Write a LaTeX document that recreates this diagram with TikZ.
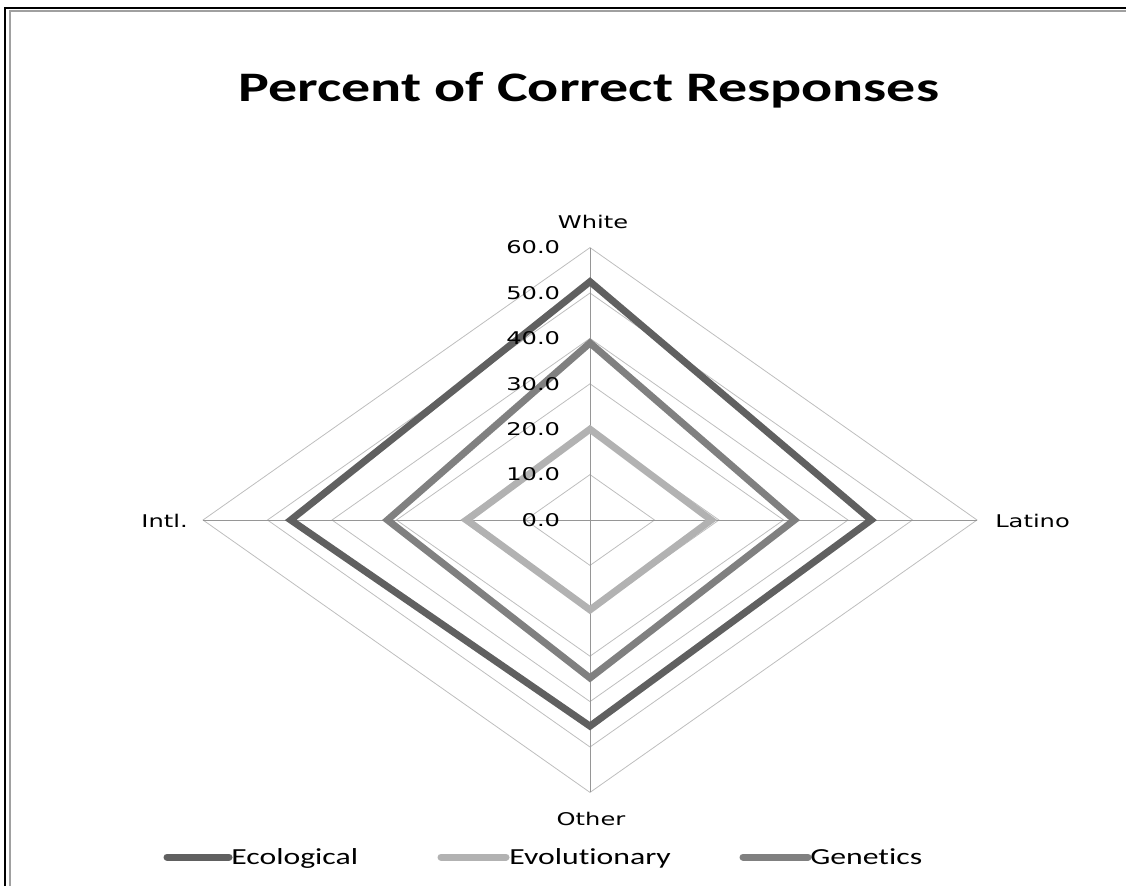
\documentclass[tikz,border=0pt]{standalone}
\usepackage{fontspec}
\setmainfont{DejaVu Sans}
\newfontfamily\calibrifont[Ligatures=NoCommon]{Carlito}
\usepackage{tikz}

\definecolor{ecogray}{RGB}{96,96,96}
\definecolor{evogray}{RGB}{178,178,178}
\definecolor{gengray}{RGB}{128,128,128}
\definecolor{gridgray}{RGB}{190,190,190}
\definecolor{axisgray}{RGB}{150,150,150}
\definecolor{framegray}{RGB}{160,160,160}

\begin{document}
\begin{tikzpicture}[x=1pt,y=-1pt]
\tikzstyle{every node}+=[inner sep=0pt]
\tikzstyle{wide}=[xscale=1.38,transform shape]
\tikzstyle{ring}=[draw=gridgray,line width=0.8pt]
\tikzstyle{axis}=[draw=axisgray,line width=1pt]
\tikzstyle{series}=[line width=7pt]
\tikzstyle{catlabel}=[wide,font=\fontsize{17.5}{20}\selectfont]
\tikzstyle{legendlabel}=[wide,font=\calibrifont\fontsize{23}{27}\selectfont]
\useasboundingbox (0,0) rectangle (1126,886);
% frame
\draw [black,line width=2.2pt] (4.6,886) -- (4.6,7.8) -- (1126,7.8);
\draw [framegray,line width=2pt] (9.8,886) -- (9.8,10.9) -- (1126,10.9);
% title
\node [wide,font=\calibrifont\bfseries\fontsize{42}{48}\selectfont] (title) at (589,90) {Percent of Correct Responses};
% radar
\begin{scope}[shift={(590,520)},x=6.45pt,y=4.54pt]
\foreach \r in {10,20,...,60}
  \draw [ring] (0,\r) -- (\r,0) -- (0,-\r) -- (-\r,0) -- cycle;
\draw [axis] (0,60) -- (0,-60);
\draw [axis] (-60,0) -- (60,0);
\draw [series,ecogray] (0,52.5) -- (43.6,0) -- (0,-45.4) -- (-46.4,0) -- cycle;
\draw [series,gengray] (0,39) -- (31.7,0) -- (0,-34.8) -- (-31.4,0) -- cycle;
\draw [series,evogray] (0,20) -- (18.8,0) -- (0,-19.8) -- (-19.1,0) -- cycle;
\foreach \r in {0,10,...,60}
  \node [catlabel,anchor=east] (tick\r) at (-4.6,\r) {\r.0};
\end{scope}
% category labels
\node [catlabel] (white) at (593,222) {White};
\node [catlabel,anchor=west] (latino) at (995,521) {Latino};
\node [catlabel,anchor=east] (intl) at (188,521) {Intl.};
\node [catlabel] (other) at (591,819) {Other};
% legend
\coordinate (ecoa) at (167,857);
\coordinate (ecob) at (229,857);
\draw [series,ecogray,line cap=round] (ecoa) -- (ecob);
\node [legendlabel,anchor=base west] (ecolabel) at (231,864) {Ecological};
\coordinate (evoa) at (441,857);
\coordinate (evob) at (506,857);
\draw [series,evogray,line cap=round] (evoa) -- (evob);
\node [legendlabel,anchor=base west] (evolabel) at (509,864) {Evolutionary};
\coordinate (gena) at (743,857);
\coordinate (genb) at (808,857);
\draw [series,gengray,line cap=round] (gena) -- (genb);
\node [legendlabel,anchor=base west] (genlabel) at (810,864) {Genetics};
\end{tikzpicture}
\end{document}
